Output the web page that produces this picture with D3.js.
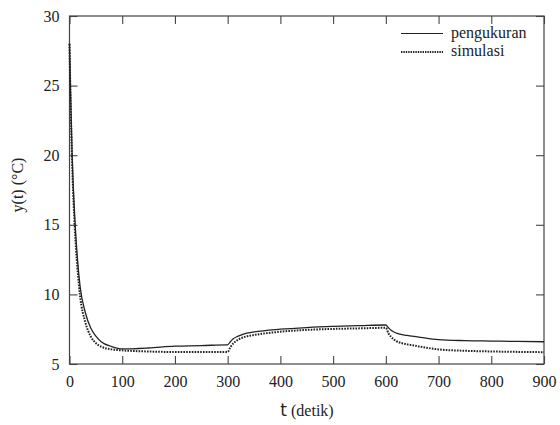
<!DOCTYPE html>
<html>
<head>
<meta charset="utf-8">
<script src="https://cdn.jsdelivr.net/npm/d3@7"></script>
<style>
  body { margin: 0; background: #fff; }
  svg text { font-family: "Liberation Serif", "Tinos", "DejaVu Serif", "Times New Roman", serif; fill: #222; }
  svg tspan.sans { font-family: "DejaVu Sans", sans-serif; }
</style>
</head>
<body>
<svg id="chart" width="560" height="425"></svg>
<script>
// time (s) samples
const tValues = [0, 2, 5, 10, 15, 20, 30, 40, 50, 60, 80, 100, 150, 200, 250, 298, 300, 305, 310, 320, 330, 350, 400, 450, 500, 550, 598, 600, 605, 610, 620, 640, 660, 700, 750, 800, 850, 900];
const pengukuran = [28, 24.5, 20, 15.5, 12.6, 10.6, 8.7, 7.6, 7.0, 6.6, 6.25, 6.08, 6.15, 6.28, 6.32, 6.38, 6.38, 6.6, 6.8, 7.0, 7.15, 7.3, 7.5, 7.62, 7.7, 7.75, 7.8, 7.8, 7.6, 7.42, 7.22, 7.05, 6.95, 6.75, 6.68, 6.65, 6.62, 6.6];
const simulasi = [28, 24, 19.5, 14.8, 11.9, 9.9, 8.0, 7.0, 6.5, 6.25, 6.05, 5.98, 5.9, 5.86, 5.86, 5.86, 5.86, 6.2, 6.45, 6.75, 6.92, 7.08, 7.32, 7.45, 7.52, 7.56, 7.6, 7.6, 7.2, 6.95, 6.65, 6.42, 6.28, 6.05, 5.95, 5.9, 5.87, 5.85];

const xTicks = [0, 100, 200, 300, 400, 500, 600, 700, 800, 900];
const yTicks = [5, 10, 15, 20, 25, 30];
const seriesNames = ["pengukuran", "simulasi"];

const svg = d3.select('#chart');
const mLeft = 69.5, mRight = 544, mTop = 16, mBottom = 364;

const xScale = d3.scaleLinear().domain([0, 900]).range([mLeft, mRight]);
const yScale = d3.scaleLinear().domain([5, 30]).range([mBottom, mTop]);

const AXIS = "#444";

// frame
svg.append('rect')
  .attr('x', mLeft).attr('y', mTop)
  .attr('width', mRight - mLeft).attr('height', mBottom - mTop)
  .attr('fill', 'none').attr('stroke', AXIS).attr('stroke-width', 1.2);

// inward ticks on all four sides
const xBottom = d3.axisBottom(xScale).tickValues(xTicks).tickSizeInner(-8).tickSizeOuter(0).tickPadding(12);
const xTop = d3.axisTop(xScale).tickValues(xTicks).tickSizeInner(-8).tickSizeOuter(0).tickFormat('');
const yLeft = d3.axisLeft(yScale).tickValues(yTicks).tickSizeInner(-8).tickSizeOuter(0).tickPadding(10);
const yRight = d3.axisRight(yScale).tickValues(yTicks).tickSizeInner(-8).tickSizeOuter(0).tickFormat('');

function styleAxis(g) {
  g.attr('font-family', null);
  g.select('.domain').remove();
  g.selectAll('line').attr('stroke', AXIS).attr('stroke-width', 1.1);
  g.selectAll('text')
    .attr('font-size', 16)
    .attr('fill', '#222');
}

svg.append('g').attr('transform', `translate(0,${mBottom})`).call(xBottom).call(styleAxis);
svg.append('g').attr('transform', `translate(0,${mTop})`).call(xTop).call(styleAxis);
svg.append('g').attr('transform', `translate(${mLeft},0)`).call(yLeft).call(styleAxis);
svg.append('g').attr('transform', `translate(${mRight},0)`).call(yRight).call(styleAxis);

// axis labels
const xl = svg.append('text')
  .attr('x', 307).attr('y', 416)
  .attr('text-anchor', 'middle')
  .attr('font-size', 16);
xl.append('tspan').attr('class', 'sans').attr('font-size', 17).text('t');
xl.append('tspan').text(' (detik)');

svg.append('text')
  .attr('transform', 'translate(23,185) rotate(-90)')
  .attr('text-anchor', 'middle')
  .attr('font-size', 16)
  .text('y(t) (°C)');

// lines
const line = vals => d3.line()
  .x((d, i) => xScale(tValues[i]))
  .y((d, i) => yScale(vals[i]))
  .curve(d3.curveMonotoneX)(vals);

svg.append('path')
  .attr('d', line(simulasi))
  .attr('fill', 'none')
  .attr('stroke', '#222')
  .attr('stroke-width', 2)
  .attr('stroke-dasharray', '1.6,1.2');

svg.append('path')
  .attr('d', line(pengukuran))
  .attr('fill', 'none')
  .attr('stroke', '#222')
  .attr('stroke-width', 1.3);

// legend
const legend = svg.append('g');
seriesNames.forEach((name, i) => {
  const y = 33.5 + i * 18.5;
  legend.append('line')
    .attr('x1', 401).attr('x2', 443)
    .attr('y1', y).attr('y2', y)
    .attr('stroke', '#222')
    .attr('stroke-width', i === 0 ? 1.2 : 1.8)
    .attr('stroke-dasharray', i === 0 ? null : '1.4,1');
  legend.append('text')
    .attr('x', 451).attr('y', y + 4)
    .attr('font-size', 16)
    .text(name);
});
</script>
</body>
</html>
